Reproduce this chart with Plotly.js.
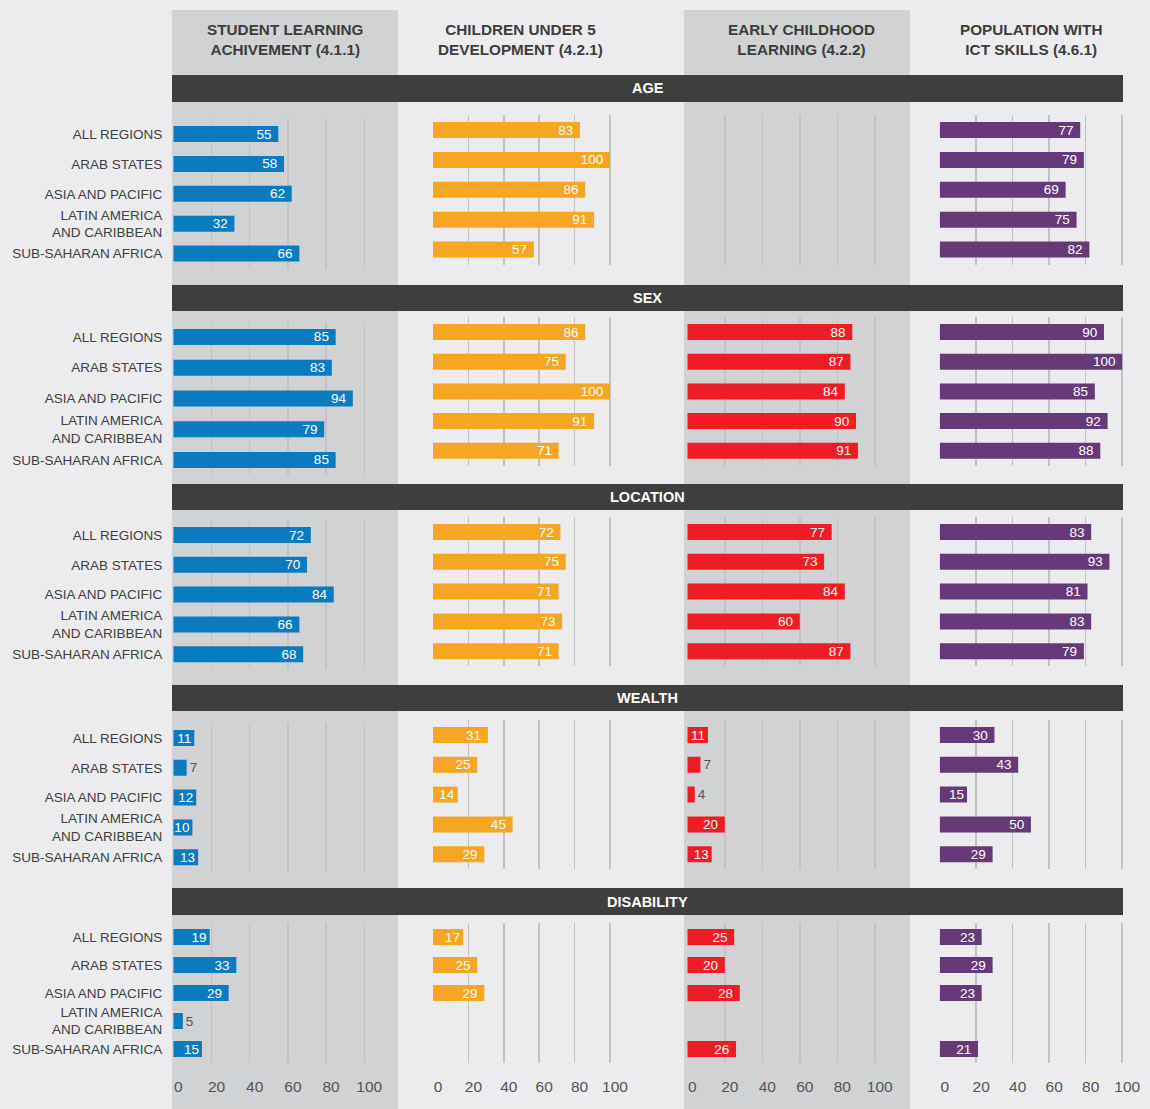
<!DOCTYPE html>
<html>
<head>
<meta charset="utf-8">
<script src="https://cdn.plot.ly/plotly-3.0.1.min.js"></script>
<style>html,body{margin:0;padding:0;background:#ececee;}#chart{width:1150px;height:1109px;}</style>
</head>
<body>
<div id="chart"></div>
<script>
// ---------- DATA ----------
const regions = ['ALL REGIONS', 'ARAB STATES', 'ASIA AND PACIFIC', 'LATIN AMERICA<br>AND CARIBBEAN', 'SUB-SAHARAN AFRICA'];
const indicators = ['STUDENT LEARNING<br>ACHIVEMENT (4.1.1)', 'CHILDREN UNDER 5<br>DEVELOPMENT (4.2.1)', 'EARLY CHILDHOOD<br>LEARNING (4.2.2)', 'POPULATION WITH<br>ICT SKILLS (4.6.1)'];
const sections = ['AGE', 'SEX', 'LOCATION', 'WEALTH', 'DISABILITY'];
const xTicks = [0, 20, 40, 60, 80, 100];

// one row per indicator (column), one value per region
const ageValues = [
  [55, 58, 62, 32, 66],
  [83, 100, 86, 91, 57],
  [null, null, null, null, null],
  [77, 79, 69, 75, 82]
];
const sexValues = [
  [85, 83, 94, 79, 85],
  [86, 75, 100, 91, 71],
  [88, 87, 84, 90, 91],
  [90, 100, 85, 92, 88]
];
const locationValues = [
  [72, 70, 84, 66, 68],
  [72, 75, 71, 73, 71],
  [77, 73, 84, 60, 87],
  [83, 93, 81, 83, 79]
];
const wealthValues = [
  [11, 7, 12, 10, 13],
  [31, 25, 14, 45, 29],
  [11, 7, 4, 20, 13],
  [30, 43, 15, 50, 29]
];
const disabilityValues = [
  [19, 33, 29, 5, 15],
  [17, 25, 29, null, null],
  [25, 20, 28, null, 26],
  [23, 29, 23, null, 21]
];
const sectionValues = [ageValues, sexValues, locationValues, wealthValues, disabilityValues];

// ---------- STYLE / GEOMETRY ----------
const W = 1150, H = 1109;
const colors = ['#0b7bc0', '#f6a623', '#ee1d25', '#663a79'];
const colX0 = [173.3, 433, 687.3, 939.7];
const colScale = [1.91, 1.77, 1.875, 1.825];
const xMax = 103;
const secFirst = [130, 332, 532, 735, 937];
const secStep = [29.9, 29.7, 29.8, 29.8, 28];
const col1First = [134, 337, 535, 738, 937];
const col1Step = [29.9, 30.75, 29.8, 29.8, 28];
const secBand = [[75, 102], [285, 311], [484, 510], [685, 711], [888, 915]];
const FONT = '"Liberation Sans", Arial, Helvetica, sans-serif';

const data = [];
const layout = {
  width: W, height: H,
  margin: {l: 0, r: 0, t: 0, b: 0},
  paper_bgcolor: '#ececee',
  plot_bgcolor: 'rgba(0,0,0,0)',
  showlegend: false,
  hovermode: false,
  font: {family: FONT, color: '#404040'},
  shapes: [],
  annotations: []
};

// column background bands
[[172, 398], [684, 910]].forEach(([a, b]) => {
  layout.shapes.push({type: 'rect', xref: 'paper', yref: 'paper', layer: 'below',
    x0: a / W, x1: b / W, y0: 0, y1: 1 - 10 / H,
    fillcolor: '#d1d2d4', line: {width: 0}});
});

// column headers
indicators.forEach((t, c) => {
  const centers = [285, 520, 801, 1031];
  layout.annotations.push({xref: 'paper', yref: 'paper', x: centers[c] / W, y: 1 - 39.5 / H,
    text: t, showarrow: false, xanchor: 'center', yanchor: 'middle',
    font: {family: FONT, size: 15.3, color: '#3d3d3d', weight: 'bold'}});
});

sections.forEach((name, s) => {
  const [b0, b1] = secBand[s];
  layout.shapes.push({type: 'rect', xref: 'paper', yref: 'paper', layer: 'below',
    x0: 172 / W, x1: 1123 / W, y0: 1 - b1 / H, y1: 1 - b0 / H,
    fillcolor: '#3e3e3e', line: {width: 0}});
  layout.annotations.push({xref: 'paper', yref: 'paper', x: 647.5 / W, y: 1 - (b0 + b1) / 2 / H,
    text: name, showarrow: false, xanchor: 'center', yanchor: 'middle',
    font: {family: FONT, size: 14.5, color: '#ffffff', weight: 'bold'}});

  for (let c = 0; c < 4; c++) {
    const k = s * 4 + c + 1;
    const xn = k === 1 ? 'x' : 'x' + k;
    const yn = k === 1 ? 'y' : 'y' + k;
    const first = c === 0 ? col1First[s] : secFirst[s];
    const step = c === 0 ? col1Step[s] : secStep[s];
    const top = first - 0.5 * step;
    const bottom = top + 5 * step;
    const vals = sectionValues[s][c];

    data.push({
      type: 'bar', orientation: 'h',
      x: vals, y: regions,
      xaxis: xn, yaxis: yn,
      width: 16 / step,
      marker: {color: colors[c], line: {width: 0}},
      text: vals.map(v => v == null ? '' : (v >= 20 ? String(v) + '\u00a0' : String(v))),
      textposition: vals.map(v => (v != null && v < 8) ? 'outside' : 'inside'),
      insidetextanchor: 'end',
      textangle: 0,
      constraintext: 'none',
      cliponaxis: false,
      textfont: {family: FONT, size: 13.5, color: vals.map(v => (v != null && v < 8) ? '#555555' : '#ffffff')},
      hoverinfo: 'skip'
    });

    const xa = {
      domain: [colX0[c] / W, (colX0[c] + xMax * colScale[c]) / W],
      range: [0, xMax],
      anchor: yn,
      tickmode: 'array', tickvals: xTicks,
      showgrid: true, gridcolor: '#c2c2c4', gridwidth: 1.5,
      zeroline: false, showline: false, ticks: '',
      showticklabels: s === 4,
      tickfont: {family: FONT, size: 15.5, color: '#555555'},
      ticklabelstandoff: 12,
      ticklabelshift: 5,
      fixedrange: true
    };
    const ya = {
      domain: [1 - bottom / H, 1 - top / H],
      type: 'category',
      categoryorder: 'array', categoryarray: regions,
      range: [4.5, -0.5],
      anchor: xn,
      showgrid: false, zeroline: false, showline: false, ticks: '',
      showticklabels: c === 0,
      tickfont: {family: FONT, size: 13.5, color: '#404040'},
      ticklabelstandoff: 10,
      fixedrange: true
    };
    layout[k === 1 ? 'xaxis' : 'xaxis' + k] = xa;
    layout[k === 1 ? 'yaxis' : 'yaxis' + k] = ya;
  }
});

Plotly.newPlot('chart', data, layout, {staticPlot: true, displayModeBar: false});
</script>
</body>
</html>
